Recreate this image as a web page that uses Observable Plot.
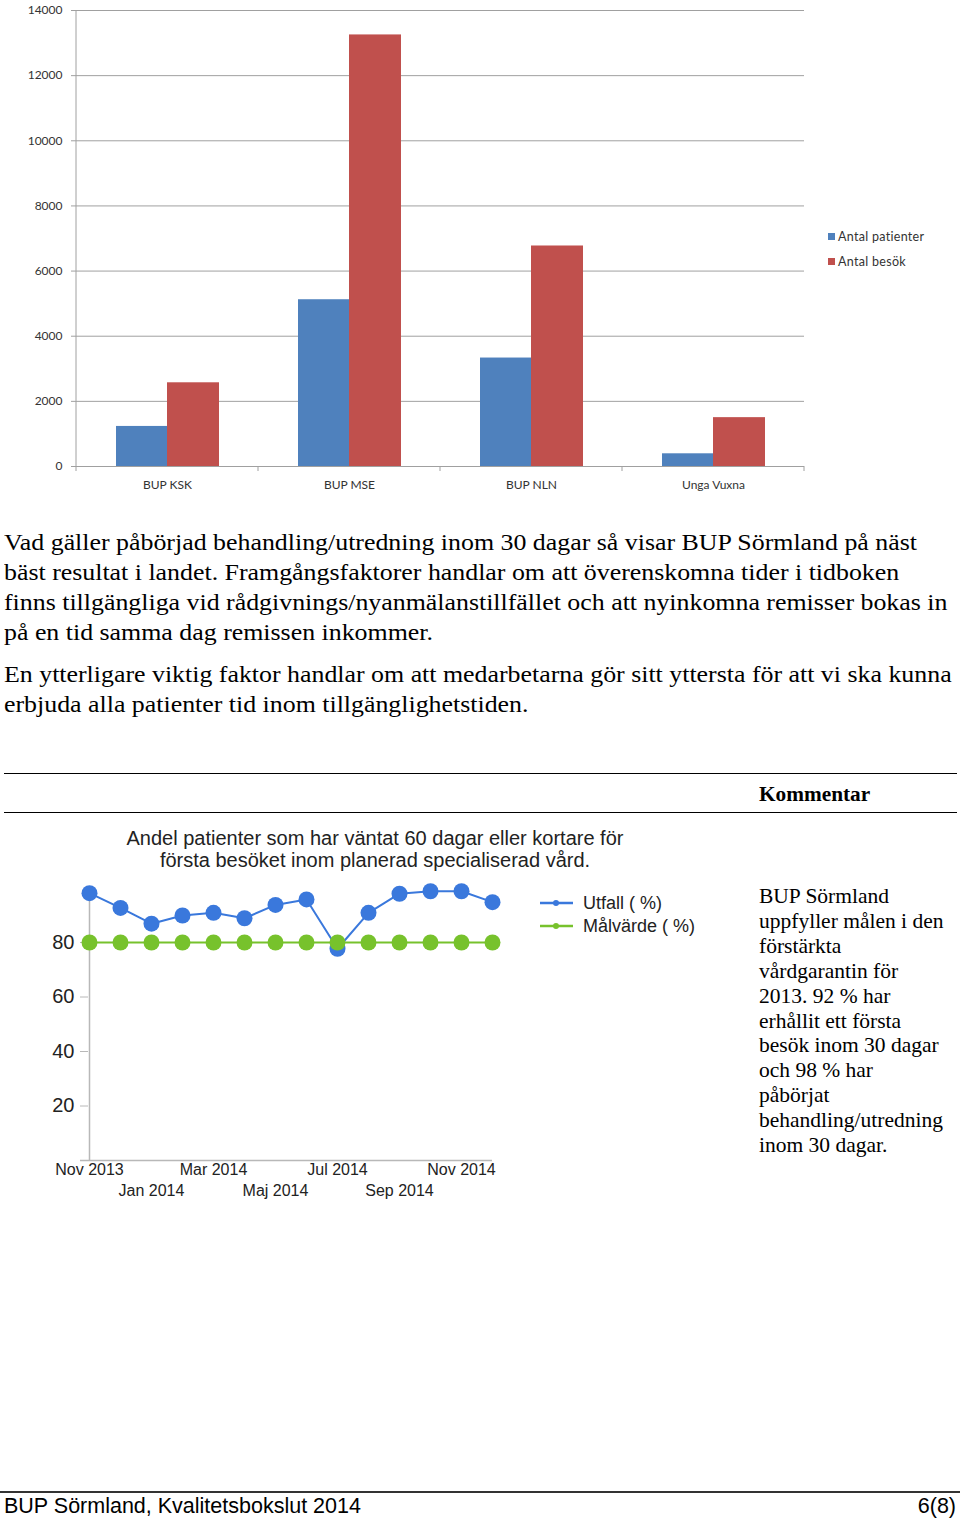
<!DOCTYPE html>
<html>
<head>
<meta charset="utf-8">
<script src="https://cdn.jsdelivr.net/npm/d3@7"></script>
<script src="https://cdn.jsdelivr.net/npm/@observablehq/plot@0.6"></script>
<style>
  html, body { margin: 0; padding: 0; background: #fff; }
  #page { position: relative; width: 960px; height: 1519px; overflow: hidden; }
  .abs { position: absolute; }
  .serif { font-family: "Liberation Serif", "Times New Roman", serif; color: #000; white-space: nowrap; }
  .sans { font-family: "Liberation Sans", Arial, sans-serif; color: #000; white-space: nowrap; }
  .wide { transform: scaleX(1.078); transform-origin: 0 0; }
  .lg1 { font-family: Lato, sans-serif; font-size: 12.5px; letter-spacing: 0.3px; color: #333; display: flex; align-items: center; height: 14px; }
  .lg1 span.sw { display: inline-block; width: 7px; height: 7px; margin-right: 3px; }
  .lg2 { font-family: "Liberation Sans", Arial, sans-serif; font-size: 18px; color: #222; display: flex; align-items: center; height: 22px; }
</style>
</head>
<body>
<div id="page">
  <div id="bar" class="abs" style="left:0;top:0;"></div>
  <div class="abs" style="left:828px;top:229px;">
    <div class="lg1"><span class="sw" style="background:#4f81bd"></span><span id="s0"></span></div>
    <div class="lg1" style="margin-top:11px"><span class="sw" style="background:#c0504d"></span><span id="s1"></span></div>
  </div>

  <div class="abs serif wide" style="left:4px;top:527px;font-size:24px;line-height:30px;">
    Vad gäller påbörjad behandling/utredning inom 30 dagar så visar BUP Sörmland på näst<br>
    bäst resultat i landet. Framgångsfaktorer handlar om att överenskomna tider i tidboken<br>
    finns tillgängliga vid rådgivnings/nyanmälanstillfället och att nyinkomna remisser bokas in<br>
    på en tid samma dag remissen inkommer.
  </div>
  <div class="abs serif wide" style="left:4px;top:659px;font-size:24px;line-height:30px;">
    En ytterligare viktig faktor handlar om att medarbetarna gör sitt yttersta för att vi ska kunna<br>
    erbjuda alla patienter tid inom tillgänglighetstiden.
  </div>

  <div class="abs" style="left:4px;top:773px;width:953px;height:0;border-top:1.5px solid #000;"></div>
  <div class="abs serif" style="left:759px;top:782px;font-size:21.3px;line-height:24px;font-weight:bold;">Kommentar</div>
  <div class="abs" style="left:4px;top:812px;width:953px;height:0;border-top:1.5px solid #000;"></div>

  <div class="abs sans" style="left:0;top:827px;width:750px;text-align:center;font-size:20px;line-height:22px;color:#222;">
    Andel patienter som har väntat 60 dagar eller kortare för<br>första besöket inom planerad specialiserad vård.
  </div>
  <div id="line" class="abs" style="left:0;top:820px;"></div>
  <div class="abs" style="left:538px;top:892px;">
    <div class="lg2"><svg width="45" height="22"><line x1="2" y1="11" x2="35" y2="11" stroke="#3a78dc" stroke-width="2.5"/><circle cx="18" cy="11" r="3" fill="#3a78dc"/></svg><span id="l0"></span></div>
    <div class="lg2" style="margin-top:1px"><svg width="45" height="22"><line x1="2" y1="11" x2="35" y2="11" stroke="#77c22c" stroke-width="2.5"/><circle cx="18" cy="11" r="3" fill="#77c22c"/></svg><span id="l1"></span></div>
  </div>

  <div class="abs serif" style="left:759px;top:884px;font-size:21.5px;line-height:24.9px;">
    BUP Sörmland<br>uppfyller målen i den<br>förstärkta<br>vårdgarantin för<br>2013. 92 % har<br>erhållit ett första<br>besök inom 30 dagar<br>och 98 % har<br>påbörjat<br>behandling/utredning<br>inom 30 dagar.
  </div>

  <div class="abs" style="left:0;top:1491px;width:960px;height:0;border-top:2px solid #333;"></div>
  <div class="abs sans" style="left:4px;top:1494px;font-size:21.5px;line-height:24px;">BUP Sörmland, Kvalitetsbokslut 2014</div>
  <div class="abs sans" style="right:4px;top:1494px;font-size:21.5px;line-height:24px;">6(8)</div>
</div>
<script>
// ---- Bar chart data ----
const categories = ["BUP KSK", "BUP MSE", "BUP NLN", "Unga Vuxna"];
const seriesNames = ["Antal patienter", "Antal besök"];
const antalPatienter = [1230, 5120, 3330, 390];
const antalBesok = [2570, 13250, 6770, 1500];
const barTicks = [0, 2000, 4000, 6000, 8000, 10000, 12000, 14000];

// ---- Line chart data ----
const months = ["2013-11", "2013-12", "2014-01", "2014-02", "2014-03", "2014-04", "2014-05",
                "2014-06", "2014-07", "2014-08", "2014-09", "2014-10", "2014-11", "2014-12"];
const utfall = [98.1, 92.7, 86.9, 89.9, 90.9, 88.9, 93.8, 95.8, 77.7, 90.9, 97.9, 98.8, 98.8, 94.8];
const malvarde = [80, 80, 80, 80, 80, 80, 80, 80, 80, 80, 80, 80, 80, 80];
const lineSeries = ["Utfall ( %)", "Målvärde ( %)"];
const monthNames = {"01": "Jan", "02": "Feb", "03": "Mar", "04": "Apr", "05": "Maj", "06": "Jun",
                    "07": "Jul", "08": "Aug", "09": "Sep", "10": "Okt", "11": "Nov", "12": "Dec"};
const tickRow1 = ["2013-11", "2014-03", "2014-07", "2014-11"];
const tickRow2 = ["2014-01", "2014-05", "2014-09"];
const lineYTicks = [20, 40, 60, 80];

document.getElementById("s0").textContent = seriesNames[0];
document.getElementById("s1").textContent = seriesNames[1];
document.getElementById("l0").textContent = lineSeries[0];
document.getElementById("l1").textContent = lineSeries[1];

const barData = categories.flatMap((c, i) => [
  {cat: c, series: seriesNames[0], value: antalPatienter[i]},
  {cat: c, series: seriesNames[1], value: antalBesok[i]}
]);

const bar = Plot.plot({
  width: 960, height: 500,
  marginLeft: 76, marginRight: 156, marginTop: 10, marginBottom: 34,
  style: {fontFamily: "Lato, sans-serif", fontSize: "12px", color: "#333", background: "transparent"},
  x: {domain: categories, padding: 0, label: null},
  y: {domain: [0, 14000], label: null},
  marks: [
    Plot.gridY(barTicks, {stroke: "#a0a0a0", strokeOpacity: 1}),
    Plot.barY(barData.filter(d => d.series === seriesNames[0]), {x: "cat", y: "value", fill: "#4f81bd", insetLeft: 40, insetRight: 91}),
    Plot.barY(barData.filter(d => d.series === seriesNames[1]), {x: "cat", y: "value", fill: "#c0504d", insetLeft: 91, insetRight: 39}),
    Plot.ruleY([0], {stroke: "#a0a0a0"}),
    Plot.axisY(barTicks, {tickSize: 5, tickPadding: 9, tickFormat: d => String(d), stroke: "#a0a0a0", fill: "#333", fontSize: 12, label: null}),
    Plot.axisX({tickSize: 0, tickPadding: 14, fill: "#333", fontSize: 12, label: null})
  ]
});
document.getElementById("bar").appendChild(bar);
// category-boundary ticks and left axis line, derived from the x/y scales
{
  const xs = bar.scale("x"), ys = bar.scale("y");
  const edges = categories.map(c => xs.apply(c));
  edges.push(xs.apply(categories[categories.length - 1]) + xs.bandwidth);
  const y0 = ys.apply(0), yTop = ys.apply(14000);
  const svg = d3.select(bar);
  svg.append("line").attr("x1", edges[0]).attr("x2", edges[0]).attr("y1", yTop).attr("y2", y0)
     .attr("stroke", "#a0a0a0");
  svg.selectAll(null).data(edges).join("line")
     .attr("x1", d => d).attr("x2", d => d).attr("y1", y0).attr("y2", y0 + 5).attr("stroke", "#a0a0a0");
}

// ---- Line chart ----
const lineData = months.map((m, i) => ({m, utfall: utfall[i], mal: malvarde[i]}));
const fmt = m => monthNames[m.slice(5)] + " " + m.slice(0, 4);
const line = Plot.plot({
  width: 530, height: 390,
  marginLeft: 88, marginRight: 38, marginTop: 67.5, marginBottom: 50,
  style: {fontFamily: "'Liberation Sans', Arial, sans-serif", color: "#222", background: "transparent", overflow: "visible"},
  x: {type: "point", domain: months, padding: 0, label: null},
  y: {domain: [0, 100], label: null},
  marks: [
    Plot.ruleX([months[0]], {stroke: "#b8b8b8", strokeWidth: 1.5}),
    Plot.ruleY([0], {stroke: "#b8b8b8", strokeWidth: 1.5, insetLeft: -8}),
    Plot.axisY(lineYTicks, {tickSize: 8, tickPadding: 6, stroke: "#b8b8b8", fill: "#222", fontSize: 20, label: null}),
    Plot.axisX(tickRow1, {tickSize: 0, tickPadding: 3, tickFormat: fmt, fill: "#222", fontSize: 16, label: null}),
    Plot.axisX(tickRow2, {tickSize: 0, tickPadding: 3, dy: 21, tickFormat: fmt, fill: "#222", fontSize: 16, label: null}),
    Plot.line(lineData, {x: "m", y: "utfall", stroke: "#3a78dc", strokeWidth: 2}),
    Plot.dot(lineData, {x: "m", y: "utfall", r: 8, fill: "#3a78dc"}),
    Plot.line(lineData, {x: "m", y: "mal", stroke: "#77c22c", strokeWidth: 2}),
    Plot.dot(lineData, {x: "m", y: "mal", r: 8, fill: "#77c22c"})
  ]
});
document.getElementById("line").appendChild(line);
</script>
</body>
</html>
